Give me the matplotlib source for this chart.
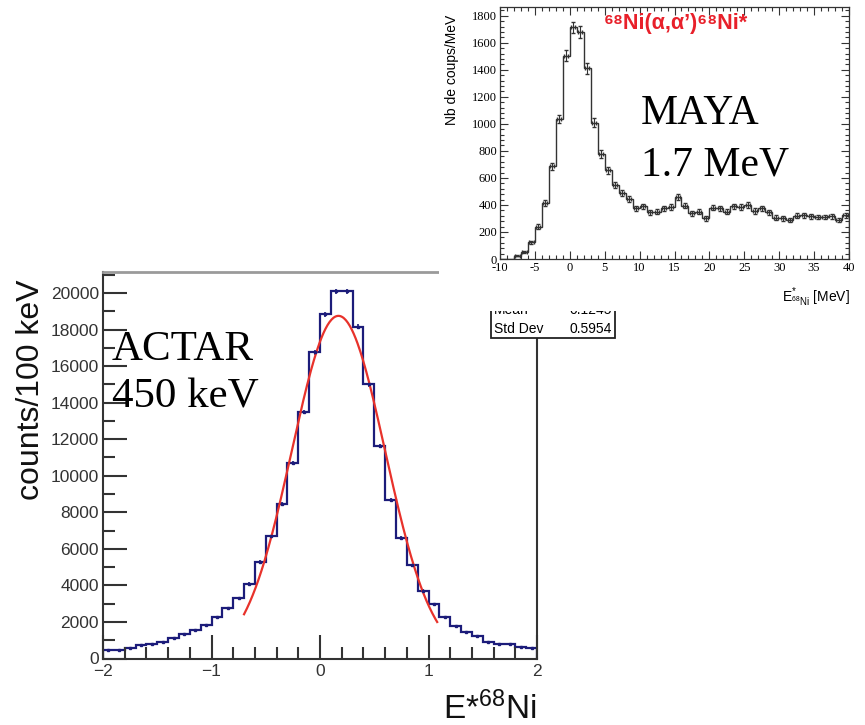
import numpy as np
import matplotlib.pyplot as plt
from matplotlib.ticker import MultipleLocator
from matplotlib.patches import Rectangle

plt.rcParams['font.family'] = ['Liberation Sans', 'DejaVu Sans']
plt.rcParams['mathtext.fontset'] = 'custom'
plt.rcParams['mathtext.rm'] = 'Liberation Sans'
plt.rcParams['mathtext.it'] = 'Liberation Sans:italic'
plt.rcParams['mathtext.bf'] = 'Liberation Sans:bold'

W, H = 865, 725

# ACTAR spectrum, 100 keV bins from -2 to 2 MeV
actar_edges = np.round(np.linspace(-2.0, 2.0, 41), 2)
actar_counts = [490, 490, 590, 720, 800, 930, 1120, 1320, 1550, 1860,
                2290, 2780, 3300, 4100, 5300, 6700, 8450, 10700, 13500, 16750,
                18850, 20100, 20100, 18150, 15000, 11650, 8700, 6600, 5100, 3720,
                2980, 2280, 1790, 1460, 1220, 920, 820, 770, 640, 580]
# gaussian fit drawn on top (amplitude, mean, sigma, range)
fit_amp, fit_mean, fit_sigma = 18750, 0.17, 0.43
fit_lo, fit_hi = -0.7, 1.08

# MAYA spectrum, 1 MeV bins from -10 to 40 MeV
maya_edges = np.linspace(-10, 40, 51)
maya_counts = [0, 0, 25, 50, 125, 240, 415, 685, 1035, 1505,
               1715, 1680, 1410, 1010, 778, 655, 550, 490, 445, 375,
               390, 345, 350, 375, 385, 460, 395, 340, 350, 300,
               380, 375, 350, 390, 385, 400, 355, 375, 345, 305,
               300, 290, 320, 325, 315, 310, 310, 315, 290, 325]


def fx(x):
    return x / W


def fy(y):
    return 1 - y / H


fig = plt.figure(figsize=(8.65, 7.25), dpi=100)

# ---- ACTAR (bottom left) ----
ax = fig.add_axes([fx(103), fy(658.5), (537 - 103) / W, (658.5 - 272) / H])
ac = np.array(actar_counts, dtype=float)
ax.stairs(ac, actar_edges, color='#1c1c7a', lw=1.6)
centers = 0.5 * (actar_edges[:-1] + actar_edges[1:])
ax.errorbar(centers, ac, yerr=np.sqrt(ac), fmt='s', ms=2, color='#1c1c7a',
            elinewidth=1.2, capsize=0)
xf = np.linspace(fit_lo, fit_hi, 200)
ax.plot(xf, fit_amp * np.exp(-0.5 * ((xf - fit_mean) / fit_sigma) ** 2),
        color='#e8322b', lw=1.6)
ax.set_xlim(-2, 2)
ax.set_ylim(0, 21150)
ax.xaxis.set_major_locator(MultipleLocator(1))
ax.xaxis.set_minor_locator(MultipleLocator(0.2))
ax.yaxis.set_major_locator(MultipleLocator(2000))
ax.yaxis.set_minor_locator(MultipleLocator(1000))
ax.tick_params(which='both', direction='in', color='#333333', width=1.5,
               labelsize=12.5, labelcolor='#333333')
ax.tick_params(which='major', length=17)
ax.tick_params(which='minor', length=8.5)
ax.tick_params(axis='x', pad=4)
ax.tick_params(axis='y', pad=3)
for side in ['left', 'bottom', 'right']:
    ax.spines[side].set_color('#333333')
    ax.spines[side].set_linewidth(1.5)
ax.spines['top'].set_color('#9a9a9a')
ax.spines['top'].set_linewidth(2)

fig.text(fx(31), fy(390), 'counts/100 keV', rotation=90, ha='center',
         va='center', fontsize=23, color='#111111')
fig.text(fx(537), fy(719), r'E*$^{68}$Ni', ha='right', va='baseline',
         fontsize=24, color='#111111')
fig.text(fx(112), fy(360), 'ACTAR', ha='left', va='baseline', fontsize=31,
         family='Liberation Serif')
fig.text(fx(112), fy(408), '450 keV', ha='left', va='baseline', fontsize=31,
         family='Liberation Serif')

# stats box, partly hidden behind the MAYA picture
fig.add_artist(Rectangle((fx(491), fy(338)), (615 - 491) / W, (338 - 300) / H,
                         transform=fig.transFigure, fc='white', ec='#222222',
                         lw=1.3, zorder=2))
fig.text(fx(494), fy(314), 'Mean', ha='left', va='baseline', fontsize=10,
         zorder=2.5)
fig.text(fx(612), fy(314), '0.1245', ha='right', va='baseline', fontsize=10,
         zorder=2.5)
fig.text(fx(494), fy(333), 'Std Dev', ha='left', va='baseline', fontsize=10,
         zorder=2.5)
fig.text(fx(612), fy(333), '0.5954', ha='right', va='baseline', fontsize=10,
         zorder=2.5)

# white background of the MAYA picture
fig.add_artist(Rectangle((fx(439), fy(311)), 1 - 439 / W, 311 / H,
                         transform=fig.transFigure, fc='white', ec='none',
                         zorder=3))

# ---- MAYA (top right) ----
ax2 = fig.add_axes([fx(500), fy(259), (849 - 500) / W, (259 - 7) / H], zorder=4)
mc = np.array(maya_counts, dtype=float)
ax2.stairs(mc, maya_edges, color='#333333', lw=1.0)
mcent = 0.5 * (maya_edges[:-1] + maya_edges[1:])
nz = mc > 0
ax2.errorbar(mcent[nz], mc[nz], yerr=np.sqrt(mc[nz]), xerr=0.3, fmt='none',
             ecolor='#333333', elinewidth=0.8, capsize=1.5)
ax2.set_xlim(-10, 40)
ax2.set_ylim(0, 1865)
ax2.xaxis.set_major_locator(MultipleLocator(5))
ax2.xaxis.set_minor_locator(MultipleLocator(1))
ax2.yaxis.set_major_locator(MultipleLocator(200))
ax2.yaxis.set_minor_locator(MultipleLocator(40))
ax2.tick_params(which='both', direction='in', top=True, right=True,
                color='#333333', width=0.8, labelsize=9,
                labelfontfamily='Liberation Serif', pad=2)
ax2.tick_params(which='major', length=6)
ax2.tick_params(which='minor', length=3)
ax2.set_xticks(ax2.get_xticks())
ax2.set_xticklabels([f'{int(t)}' .replace('−', '-') for t in ax2.get_xticks()])
for s in ax2.spines.values():
    s.set_color('#333333')
    s.set_linewidth(0.9)
ax2.set_xlim(-10, 40)

fig.text(fx(452), fy(70), 'Nb de coups/MeV', rotation=90, ha='center',
         va='center', fontsize=10, zorder=5)
fig.text(fx(850), fy(302), r'E$^{*}_{^{68}\mathrm{Ni}}$ [MeV]', ha='right',
         va='baseline', fontsize=10, zorder=5)
fig.text(fx(604), fy(29), '⁶⁸Ni(α,α’)⁶⁸Ni*', ha='left', va='baseline',
         fontsize=15.5, fontweight='bold', color='#e8202a', zorder=5)
fig.text(fx(641), fy(124), 'MAYA', ha='left', va='baseline', fontsize=30,
         family='Liberation Serif', zorder=5)
fig.text(fx(641), fy(176), '1.7 MeV', ha='left', va='baseline', fontsize=30,
         family='Liberation Serif', zorder=5)

fig.savefig('out.png', dpi=100)
